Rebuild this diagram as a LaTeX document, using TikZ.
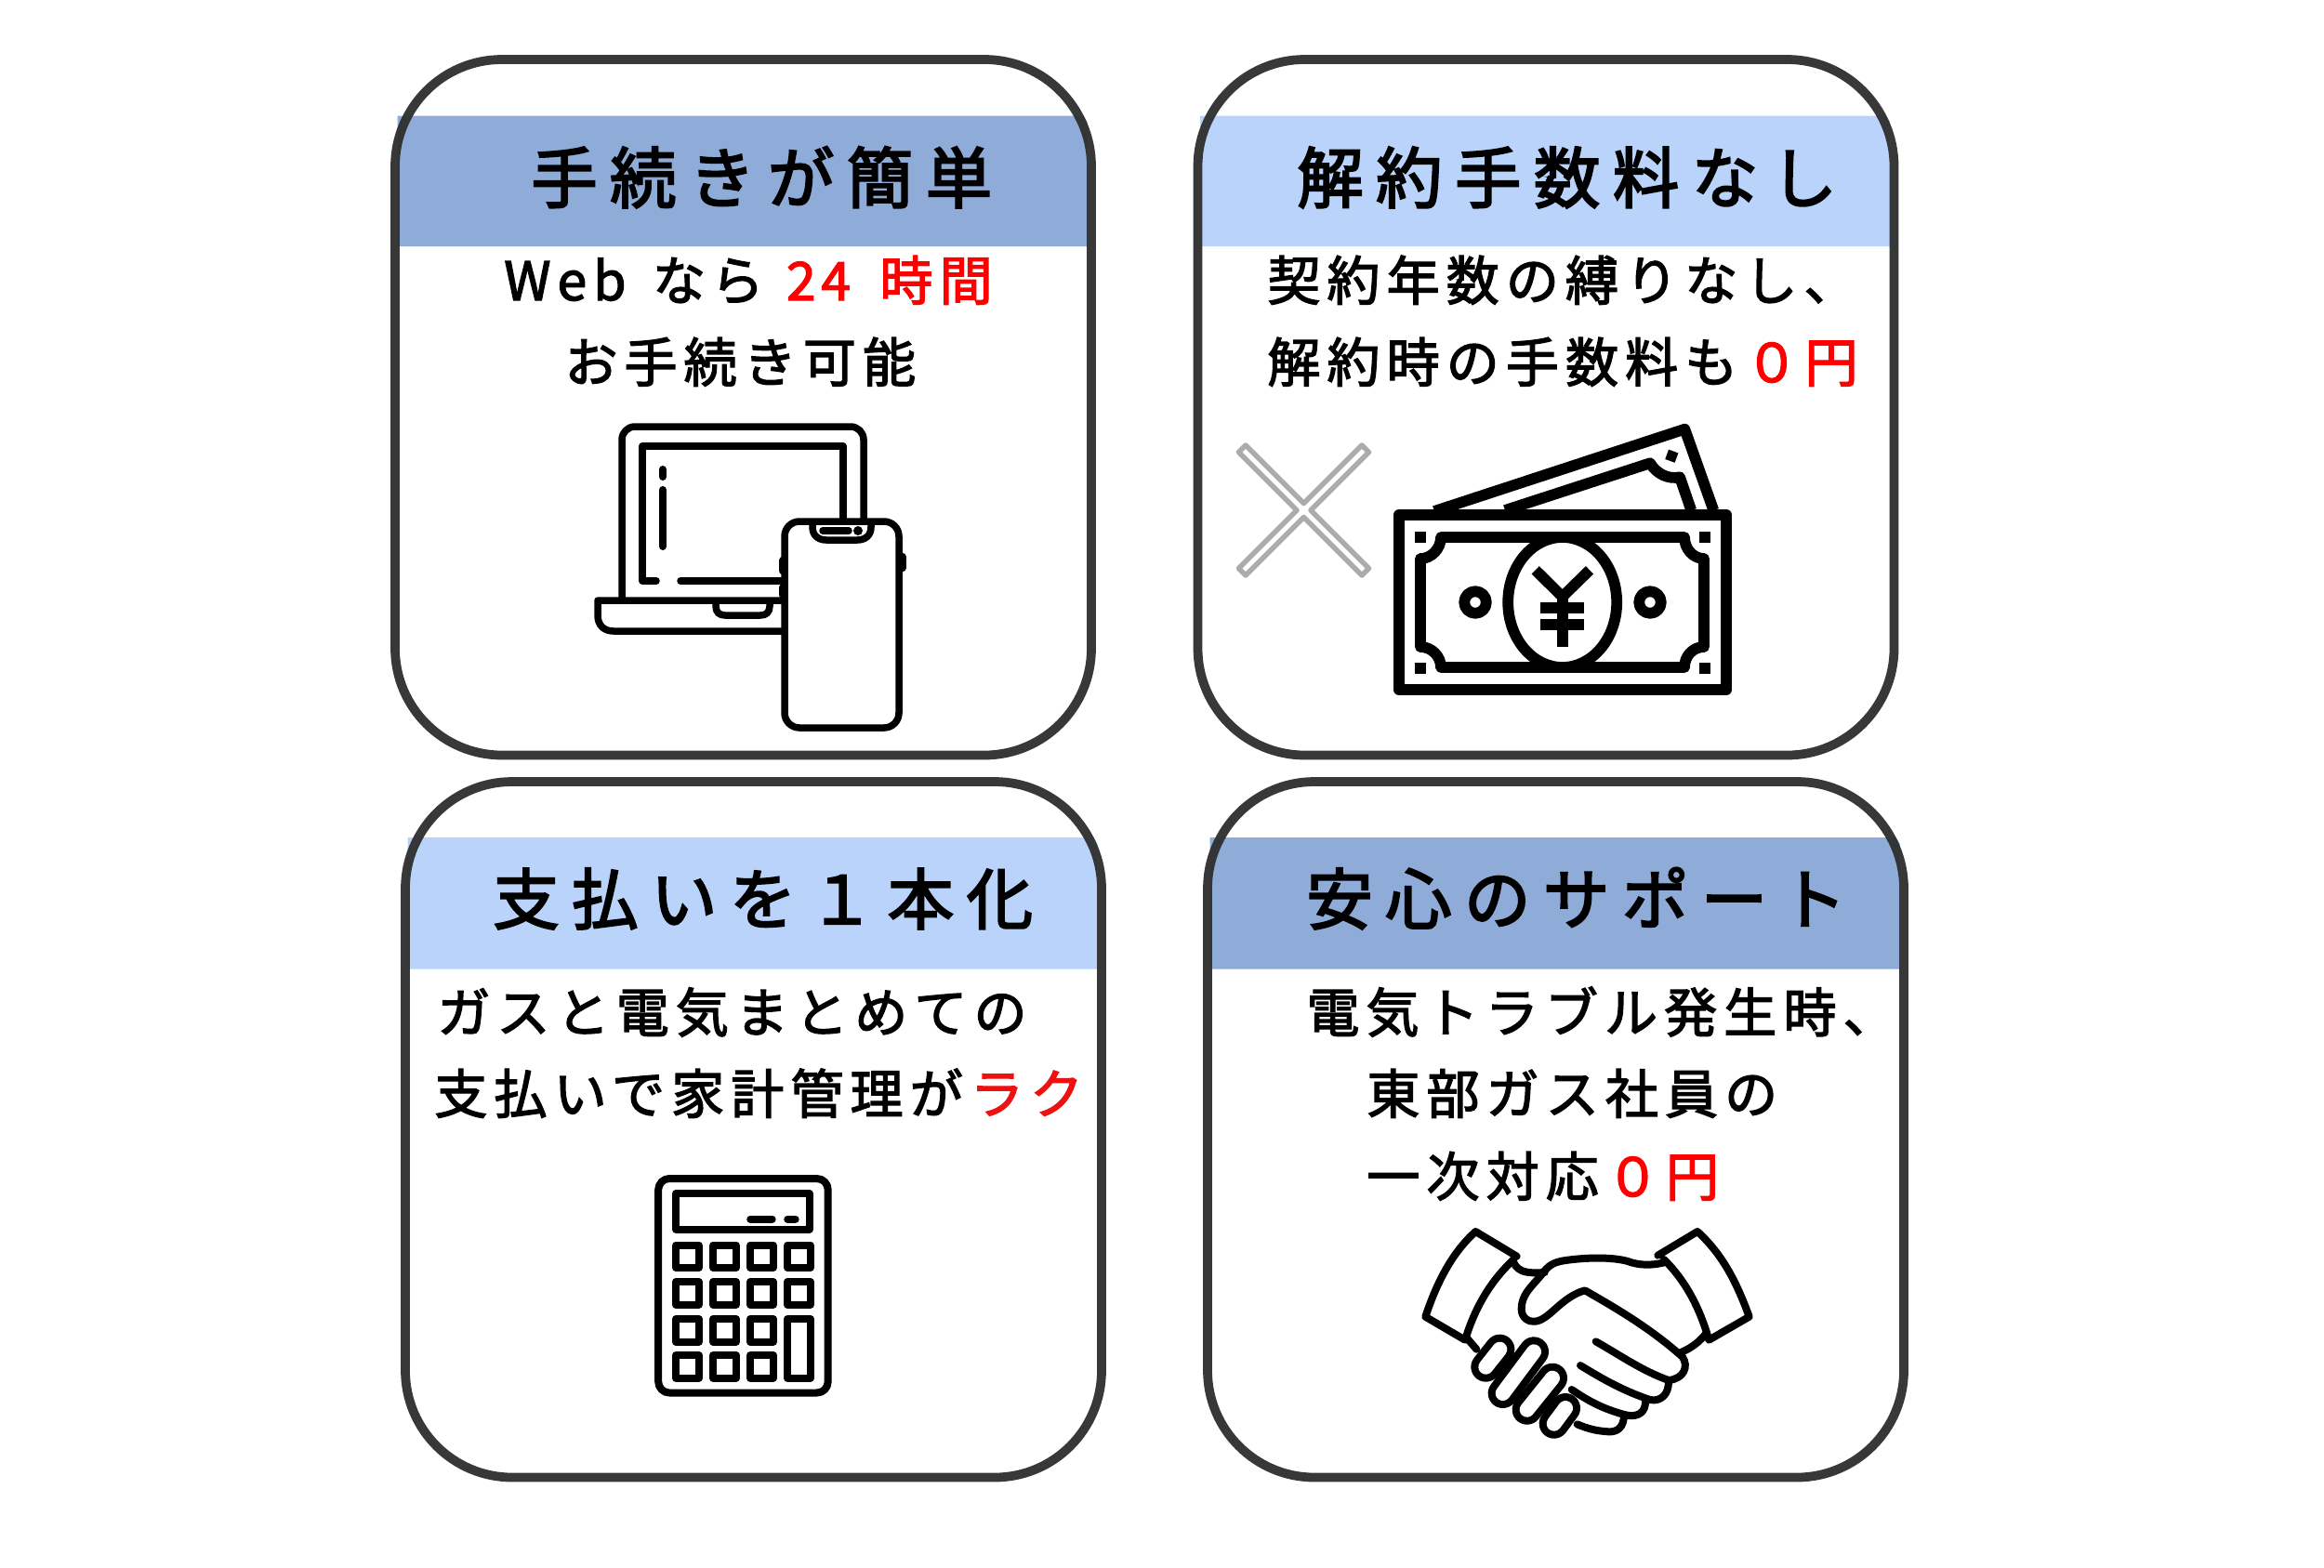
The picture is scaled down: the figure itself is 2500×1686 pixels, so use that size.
\documentclass[tikz,border=0pt]{standalone}
\usepackage{fontspec}
\usetikzlibrary{calc}
\newfontfamily\titlefont[LetterSpace=19,FakeBold=3]{Noto Sans CJK JP}
\newfontfamily\bodyfont[LetterSpace=12.3,FakeBold=2.4]{Noto Sans CJK JP}
\definecolor{bandDark}{HTML}{8FABD7}
\definecolor{bandLight}{HTML}{B9D3FA}
\definecolor{cardEdge}{HTML}{2E2E2E}
\definecolor{crossGray}{HTML}{ABABAB}
\newcommand{\hot}[1]{\hspace{.14em}\textcolor{red}{#1}}
\tikzset{
  x=0.2mm,y=-0.2mm,
  cardbox/.style={draw=cardEdge,line width=1.95mm,rounded corners=23mm,draw opacity=.95},
  ttl/.style={anchor=base west,inner sep=0,font=\titlefont\fontsize{40.6}{44}\selectfont},
  bdy/.style={anchor=base west,inner sep=0,font=\bodyfont\fontsize{32.5}{36}\selectfont},
  icon/.style={draw=black,line width=1.5mm,line join=round,line cap=round},
  bill/.style={draw=black,line width=2.35mm,line join=round},
}
\begin{document}
\begin{tikzpicture}
\useasboundingbox[fill=white] (0,0) rectangle (2500,1686);
% ---------- bands
\fill[bandDark]  (427.5,124.5) -- (1165.5,124.5) -- (1169.5,131) -- (1169.5,265) -- (427.5,265) -- cycle;
\fill[bandLight] (1291,124.5) -- (2029,124.5) -- (2033,131) -- (2033,265) -- (1291,265) -- cycle;
\fill[bandLight] (438.5,901) -- (1176.5,901) -- (1180.5,907.5) -- (1180.5,1042.5) -- (438.5,1042.5) -- cycle;
\fill[bandDark]  (1301.5,901) -- (2039.5,901) -- (2043.5,907.5) -- (2043.5,1042.5) -- (1301.5,1042.5) -- cycle;
% ---------- cards
\draw[cardbox] (425,64) rectangle (1174,812.5);
\draw[cardbox] (1288.5,64) rectangle (2037.5,812.5);
\draw[cardbox] (436,841) rectangle (1185,1589.5);
\draw[cardbox] (1299,841) rectangle (2048,1589.5);
% ---------- texts
\node[ttl] (t1) at (571,218) {手続きが簡単};
\node[bdy] (b1a) at (542,323) {Web\hspace{.5em}な\hspace{.1em}ら\hspace{.28em}\hot{2\hspace{.1em}4\hspace{.55em}時間}};
\node[bdy] (b1b) at (607,411) {お手続き可能};
\node[ttl] (t2) at (1395,218) {解約手数料なし};
\node[bdy] (b2a) at (1363,323) {契約年数の縛りなし、};
\node[bdy] (b2b) at (1363,411) {解約時の手数料も\hot{０円}};
\node[ttl] (t3) at (530,994) {支払いを１本化};
\node[bdy] (b3a) at (470,1110.5) {ガスと電気まとめての};
\node[bdy] (b3b) at (467,1198) {支払いで家計管理が\hspace{.14em}\textcolor[HTML]{EE1111}{ラク}};
\node[ttl] (t4) at (1405,994) {安心のサポート};
\node[bdy] (b4a) at (1405,1110.5) {電気トラブル発生時、};
\node[bdy] (b4b) at (1470,1198) {東部ガス社員の};
\node[bdy] (b4c) at (1470,1287) {一次対応\hot{０円}};
% ---------- laptop
\draw[icon,rounded corners=2.8mm] (669,643) -- (669,459) -- (929,459) -- (929,560);
\draw[icon] (907,560) -- (907,480) -- (691,480) -- (691,625) -- (706,625);
\draw[icon] (732,625) -- (842,625);
\draw[icon,line width=1.6mm] (713,505) -- (713,513);
\draw[icon,line width=1.6mm] (713,527) -- (713,588);
\draw[icon] (844,646) -- (643,646) -- (643,662) .. controls (643,673) and (650,679) .. (660,679) -- (844,679);
\draw[icon] (770,647) -- (770,652) .. controls (770,659) and (774,662) .. (780,662) -- (818,662) .. controls (824,662) and (828,659) .. (828,652) -- (828,647);
% ---------- phone
\draw[icon,line width=1.7mm] (842,603) -- (842,614);
\draw[icon,line width=1.7mm] (842,632) -- (842,640);
\draw[icon,line width=1.7mm] (970.5,599) -- (970.5,611);
\draw[icon,fill=white,rounded corners=3.2mm] (844,561) rectangle (967,783);
\draw[icon] (874,562) -- (874,567) .. controls (874,576) and (880,581) .. (889,581) -- (922,581) .. controls (931,581) and (937,576) .. (937,567) -- (937,562);
\draw[icon] (885,571) -- (913,571);
\fill (923,571) circle[radius=5];
% ---------- back bill
\draw[bill] (1543,550) -- (1812.3,461.7) -- (1843.3,549);
\draw[bill] (1619,549) -- (1775,498.3) .. controls (1782,510) and (1795,516) .. (1807,513.3) -- (1819.3,549);
\fill[rotate around={-20:(1798.3,490.7)}] (1792.8,485.2) rectangle (1803.8,496.2);
% ---------- front bill
\draw[bill,fill=white] (1505,554) rectangle (1857,742);
\draw[bill] (1680.7,648) ellipse[x radius=58.5,y radius=70];
\draw[bill] (1550,578) -- (1812,578) .. controls (1812,590) and (1821,601) .. (1833,601) -- (1833,696) .. controls (1821,696) and (1812,706) .. (1812,718) -- (1550,718) .. controls (1550,706) and (1540,696) .. (1528,696) -- (1528,601) .. controls (1540,601) and (1550,590) .. (1550,578) -- cycle;
\draw[bill] (1587,648) circle[radius=11.8];
\draw[bill] (1775,648) circle[radius=11.8];
\fill (1522,572) rectangle (1534,584);
\fill (1828,572) rectangle (1839.5,584);
\fill (1522,713) rectangle (1534,725);
\fill (1828,713) rectangle (1839.5,725);
\draw[bill,line join=miter] (1651.7,613.3) -- (1680.7,642) -- (1710,613.3);
\draw[bill] (1680.7,642) -- (1680.7,695.7);
\fill (1657.3,648.3) rectangle (1704.3,660);
\fill (1657.3,666.3) rectangle (1704.3,678);
% ---------- cross
\draw[draw=crossGray,line width=1.1mm,line join=round]
 (1340,479) -- (1402.5,541.5) -- (1465,479) -- (1472.5,486.5) -- (1410,549) -- (1472.5,611.5) -- (1465,619) -- (1402.5,556.5) -- (1340,619) -- (1332.5,611.5) -- (1395,549) -- (1332.5,486.5) -- cycle;
% ---------- calculator
\begin{scope}[shift={(-1.8,-2.5)}]
\draw[icon,rounded corners=2.4mm,line width=1.6mm] (710,1270.5) rectangle (892.5,1501);
\draw[icon,line width=1.6mm] (729,1286.5) rectangle (872.5,1325);
\draw[icon,line width=1.6mm] (809,1314) -- (832.5,1314);
\draw[icon,line width=1.6mm] (849,1314) -- (857.5,1314);
\foreach \xa in {729,769,809,849}{
  \foreach \ya in {1342,1381.5}{
    \draw[icon,line width=1.6mm] (\xa,\ya) rectangle ++(24.5,24.5);
  }
}
\foreach \xa in {729,769,809}{
  \foreach \ya in {1421.5,1460.5}{
    \draw[icon,line width=1.6mm] (\xa,\ya) rectangle ++(24.5,24.5);
  }
}
\draw[icon,line width=1.6mm] (849,1421.5) rectangle (873.5,1485);
\end{scope}
% ---------- handshake
\begin{scope}[shift={(1500,1300)},xscale=1/3,yscale=1/3]
\tikzset{hs/.style={draw=black,line width=1.6mm,line cap=round,line join=round}}
\draw[hs] (395,155) -- (262,75) .. controls (190,140) and (140,230) .. (100,350) -- (228,425) .. controls (260,320) and (310,235) .. (385,165);
\draw[hs] (850,152) -- (978,75) .. controls (1060,150) and (1105,240) .. (1145,350) -- (1015,425) .. controls (985,320) and (940,235) .. (870,165);
\draw[hs] (385,175) .. controls (400,210) and (440,210) .. (485,207);
\draw[hs] (870,175) .. controls (830,185) and (790,185) .. (750,170) .. controls (690,155) and (600,160) .. (540,170) .. controls (500,178) and (490,195) .. (470,220) .. controls (440,255) and (410,280) .. (410,325) .. controls (410,355) and (435,368) .. (455,365) .. controls (500,360) and (540,285) .. (615,265) .. controls (720,325) and (830,390) .. (930,480) .. controls (950,510) and (935,550) .. (885,555);
\draw[hs] (650,430) .. controls (730,475) and (800,525) .. (885,555) ;
\draw[hs] (885,560) .. controls (885,600) and (860,625) .. (825,618);
\draw[hs] (600,507) .. controls (670,550) and (740,590) .. (825,618);
\draw[hs] (810,625) .. controls (810,655) and (790,675) .. (750,668);
\draw[hs] (572,585) .. controls (630,625) and (680,650) .. (750,668);
\draw[hs] (740,680) .. controls (735,715) and (710,725) .. (680,720) .. controls (650,718) and (620,710) .. (590,697);
\draw[hs] (925,465) .. controls (960,450) and (985,430) .. (1005,405);
\draw[hs] (235,420) -- (265,455);
\draw[line width=6.4mm,line cap=round,draw=black] (340,455) -- (295,512);
\draw[line width=6.4mm,line cap=round,draw=black] (450,463) -- (350,597);
\draw[line width=6.4mm,line cap=round,draw=black] (510,548) -- (428,650);
\draw[line width=6.4mm,line cap=round,draw=black] (552,645) -- (515,695);
\draw[line width=3.2mm,line cap=round,draw=white] (340,455) -- (295,512);
\draw[line width=3.2mm,line cap=round,draw=white] (450,463) -- (350,597);
\draw[line width=3.2mm,line cap=round,draw=white] (510,548) -- (428,650);
\draw[line width=3.2mm,line cap=round,draw=white] (552,645) -- (515,695);
\end{scope}
\end{tikzpicture}
\end{document}
